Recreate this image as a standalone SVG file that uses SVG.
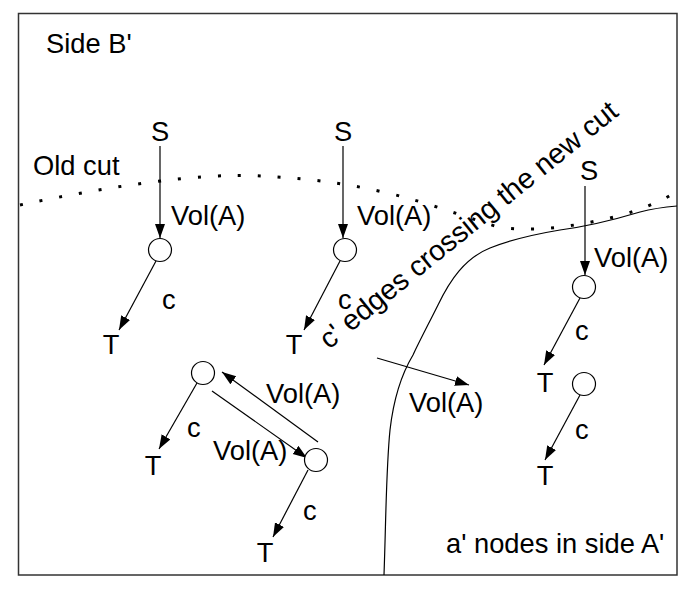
<svg xmlns="http://www.w3.org/2000/svg" width="696" height="589" viewBox="0 0 696 589">
<style>
text{font-family:"Liberation Sans",Arial,sans-serif;font-size:27.3px;fill:#000}
.m{text-anchor:middle}
.e{stroke:#000;stroke-width:1.2;fill:none}
.n{fill:#fff;stroke:#000;stroke-width:1.2}
</style>
<defs>
<marker id="ah" markerUnits="userSpaceOnUse" markerWidth="15" markerHeight="11" refX="14" refY="5" orient="auto">
<path d="M0,0 L14,5 L0,10 z" fill="#000"/>
</marker>
</defs>
<rect x="18.5" y="13.5" width="658.5" height="561.5" fill="#fff" stroke="#333" stroke-width="1.5"/>
<g id="cuts">
<path d="M20,205 C100,188 200,172 262,176 C300,178 340,182 383,192 C420,200 450,212 498,227 C530,232 570,228 618,216 C640,210 660,202 676,192" fill="none" stroke="#000" stroke-width="3" stroke-dasharray="3 17"/>
<path d="M384,575 C386,520 386,470 390,430 C394,395 404,370 413,355 C420,340 428,325 438,305 C450,280 465,258 490,248 C510,240 530,235 560,230 C590,226 620,218 640,212 C655,208 665,207 677,206" fill="none" stroke="#000" stroke-width="1.2"/>
</g>
<g id="connectors">
<line class="e" x1="160" y1="146" x2="160" y2="238" marker-end="url(#ah)"/>
<line class="e" x1="156" y1="261" x2="119" y2="330" marker-end="url(#ah)"/>
<line class="e" x1="343" y1="146" x2="343" y2="238" marker-end="url(#ah)"/>
<line class="e" x1="340" y1="261" x2="304" y2="330" marker-end="url(#ah)"/>
<line class="e" x1="585" y1="186" x2="585" y2="275" marker-end="url(#ah)"/>
<line class="e" x1="580" y1="298" x2="544" y2="365" marker-end="url(#ah)"/>
<line class="e" x1="580" y1="395" x2="545" y2="460" marker-end="url(#ah)"/>
<line class="e" x1="197" y1="383" x2="159" y2="449" marker-end="url(#ah)"/>
<line class="e" x1="308" y1="470" x2="273" y2="537" marker-end="url(#ah)"/>
<line class="e" x1="318" y1="442" x2="222" y2="372" marker-end="url(#ah)"/>
<line class="e" x1="212" y1="391" x2="307" y2="458" marker-end="url(#ah)"/>
<line class="e" x1="377" y1="358" x2="469" y2="385" marker-end="url(#ah)"/>
</g>
<g id="node1"><circle class="n" cx="160" cy="250" r="11.5"/></g>
<g id="node2"><circle class="n" cx="345" cy="250" r="11.5"/></g>
<g id="node3"><circle class="n" cx="584" cy="287" r="11.5"/></g>
<g id="node4"><circle class="n" cx="584" cy="384" r="11.5"/></g>
<g id="node5"><circle class="n" cx="203" cy="373" r="11.5"/></g>
<g id="node6"><circle class="n" cx="316" cy="460" r="11.5"/></g>
<g id="labels">
<text x="46" y="53">Side B'</text>
<text x="33" y="175">Old cut</text>
<text class="m" x="160" y="141">S</text>
<text x="171" y="225">Vol(A)</text>
<text x="162" y="309">c</text>
<text class="m" x="111" y="354">T</text>
<text class="m" x="343" y="141">S</text>
<text x="357" y="225">Vol(A)</text>
<text x="338" y="309">c</text>
<text class="m" x="294" y="354">T</text>
<text class="m" x="589" y="180">S</text>
<text x="594" y="267">Vol(A)</text>
<text x="575" y="340">c</text>
<text class="m" x="545" y="392">T</text>
<text x="575" y="439">c</text>
<text class="m" x="545" y="485">T</text>
<text x="187" y="437">c</text>
<text class="m" x="153" y="475">T</text>
<text x="266" y="403">Vol(A)</text>
<text x="213" y="460">Vol(A)</text>
<text x="303" y="520">c</text>
<text class="m" x="265" y="562">T</text>
<text x="409" y="412">Vol(A)</text>
<text x="446" y="553">a' nodes in side A'</text>
<text transform="translate(329,350) rotate(-39)" style="font-size:28.6px">c' edges crossing the new cut</text>
</g>
</svg>
